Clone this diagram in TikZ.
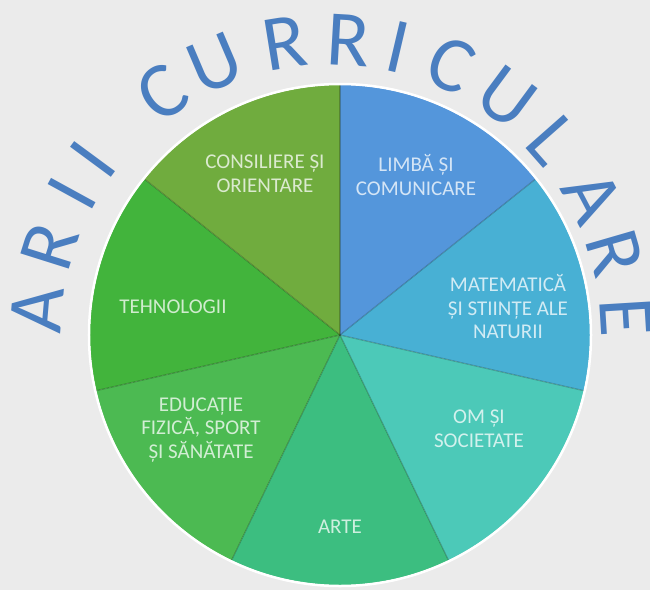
\documentclass[tikz,border=0pt]{standalone}
\usepackage{fontspec}
\setmainfont{Carlito}

\tikzset{
    arcletter/.style={text=ariiblue,font=\fontsize{79}{95}\selectfont,inner sep=0pt,anchor=base},
    slicelabel/.style={align=center,inner sep=0pt,font=\fontsize{21}{23.5}\selectfont},
    slicesep/.style={draw=black,draw opacity=0.22,line width=1.2pt}
}

\begin{document}
\begin{tikzpicture}[x=1pt,y=1pt]
    \definecolor{ariibg}{RGB}{235,235,235}
    \definecolor{ariiblue}{RGB}{74,126,192}
    \definecolor{ariiLimba}{RGB}{84,150,219}
    \definecolor{ariiMate}{RGB}{72,176,212}
    \definecolor{ariiOm}{RGB}{76,201,184}
    \definecolor{ariiArte}{RGB}{60,190,128}
    \definecolor{ariiEduc}{RGB}{76,186,82}
    \definecolor{ariiTehno}{RGB}{66,180,60}
    \definecolor{ariiConsil}{RGB}{112,172,62}
    \useasboundingbox[fill=ariibg] (-340,-255) rectangle (310,335);
    % felii
    \fill[ariiLimba]  (0,0) -- (90:250pt)     arc[start angle=90,     end angle=38.57,   radius=250pt] -- cycle;
    \fill[ariiMate]   (0,0) -- (38.57:250pt)  arc[start angle=38.57,  end angle=-12.86,  radius=250pt] -- cycle;
    \fill[ariiOm]     (0,0) -- (-12.86:250pt) arc[start angle=-12.86, end angle=-64.29,  radius=250pt] -- cycle;
    \fill[ariiArte]   (0,0) -- (-64.29:250pt) arc[start angle=-64.29, end angle=-115.71, radius=250pt] -- cycle;
    \fill[ariiEduc]   (0,0) -- (-115.71:250pt) arc[start angle=-115.71, end angle=-167.14, radius=250pt] -- cycle;
    \fill[ariiTehno]  (0,0) -- (192.86:250pt) arc[start angle=192.86, end angle=141.43,  radius=250pt] -- cycle;
    \fill[ariiConsil] (0,0) -- (141.43:250pt) arc[start angle=141.43, end angle=90,      radius=250pt] -- cycle;
    \draw[slicesep] (0,0) -- (90:250pt);
    \draw[slicesep] (0,0) -- (38.57:250pt);
    \draw[slicesep] (0,0) -- (-12.86:250pt);
    \draw[slicesep] (0,0) -- (-64.29:250pt);
    \draw[slicesep] (0,0) -- (-115.71:250pt);
    \draw[slicesep] (0,0) -- (192.86:250pt);
    \draw[slicesep] (0,0) -- (141.43:250pt);
    \draw[white,line width=2.5pt] (0,0) circle[radius=251pt];
    % etichete
    \node[slicelabel,text=white!75!ariiLimba]  (limba)  at (76,160)   {LIMBĂ ȘI\\COMUNICARE};
    \node[slicelabel,text=white!75!ariiMate]   (mate)   at (168,28)   {MATEMATICĂ\\ȘI STIINȚE ALE\\NATURII};
    \node[slicelabel,text=white!75!ariiOm]     (om)     at (139,-94)  {OM ȘI\\SOCIETATE};
    \node[slicelabel,text=white!75!ariiArte]   (arte)   at (0,-192)   {ARTE};
    \node[slicelabel,text=white!75!ariiEduc]   (educ)   at (-139,-95) {EDUCAȚIE\\FIZICĂ, SPORT\\ȘI SĂNĂTATE};
    \node[slicelabel,text=white!75!ariiTehno]  (tehno)  at (-167,28)  {TEHNOLOGII};
    \node[slicelabel,text=white!75!ariiConsil] (consil) at (-75,161)  {CONSILIERE ȘI\\ORIENTARE};
    % titlul pe arc
    \begin{scope}[shift={(-9,0)}]
    \node[arcletter,rotate=85.1]  (t1)  at (175.1:270pt) {A};
    \node[arcletter,rotate=72.5]  (t2)  at (162.5:270pt) {R};
    \node[arcletter,rotate=61.3]  (t3)  at (151.3:270pt) {I};
    \node[arcletter,rotate=53.6]  (t4)  at (143.6:270pt) {I};
    \node[arcletter,rotate=34.8]  (t5)  at (124.8:270pt) {C};
    \node[arcletter,rotate=23.1]  (t6)  at (113.1:270pt) {U};
    \node[arcletter,rotate=9.1]   (t7)  at (99.1:270pt)  {R};
    \node[arcletter,rotate=-3.3]  (t8)  at (86.7:270pt)  {R};
    \node[arcletter,rotate=-13.2] (t9)  at (76.8:270pt)  {I};
    \node[arcletter,rotate=-24]   (t10) at (66:270pt)    {C};
    \node[arcletter,rotate=-36.5] (t11) at (53.5:270pt)  {U};
    \node[arcletter,rotate=-48.6] (t12) at (41.4:270pt)  {L};
    \node[arcletter,rotate=-62.2] (t13) at (27.8:270pt)  {A};
    \node[arcletter,rotate=-73.8] (t14) at (16.2:270pt)  {R};
    \node[arcletter,rotate=-86.5] (t15) at (3.5:270pt)   {E};
    \end{scope}
\end{tikzpicture}
\end{document}
